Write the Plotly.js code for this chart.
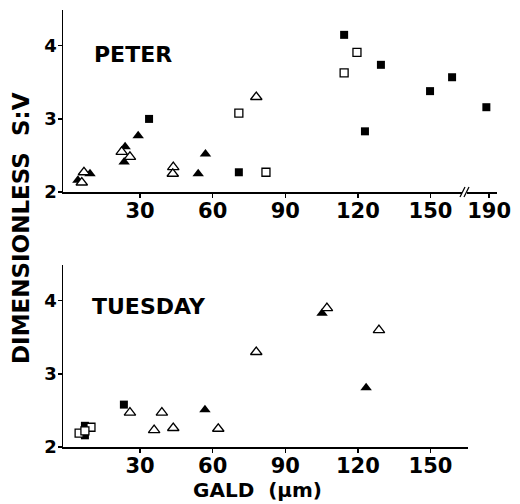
<!DOCTYPE html>
<html>
<head>
<meta charset="utf-8">
<script src="https://cdn.plot.ly/plotly-3.0.1.min.js"></script>
<style>html,body{margin:0;padding:0;background:#fff;}#chart{width:520px;height:504px;}</style>
</head>
<body>
<div id="chart"></div>
<script>
// PETER panel
const peterFilledTriX = [4.3, 9.3, 23.8, 23.4, 29.2, 54, 57];
const peterFilledTriY = [2.16, 2.25, 2.62, 2.41, 2.77, 2.25, 2.52];
const peterOpenTriX = [5.9, 6.8, 22.4, 25.8, 43.7, 43.5, 78];
const peterOpenTriY = [2.13, 2.27, 2.55, 2.48, 2.34, 2.25, 3.30];
const peterFilledSqX = [33.7, 70.8, 114.3, 129.5, 122.9, 149.8, 158.9, 189];
const peterFilledSqY = [3.00, 2.27, 4.15, 3.74, 2.83, 3.38, 3.57, 3.16];
const peterOpenSqX = [70.8, 82, 119.6, 114.3];
const peterOpenSqY = [3.08, 2.27, 3.91, 3.63];
// TUESDAY panel
const tuesFilledSqX = [7.2, 7.2, 23.3];
const tuesFilledSqY = [2.29, 2.16, 2.58];
const tuesOpenSqX = [4.8, 9.7, 7.2];
const tuesOpenSqY = [2.19, 2.27, 2.22];
const tuesOpenTriX = [25.8, 35.8, 39, 43.7, 62.3, 78, 107.2, 128.7];
const tuesOpenTriY = [2.47, 2.23, 2.47, 2.26, 2.25, 3.30, 3.90, 3.60];
const tuesFilledTriX = [56.8, 105.2, 123.4];
const tuesFilledTriY = [2.51, 3.83, 2.81];
// ticks
const topTicks = [30, 60, 90, 120, 150];
const breakTicks = [190];
const bottomTicks = [30, 60, 90, 120, 150];
const yTicks = [2, 3, 4];
const breakAt = 170;

const FONT = 'DejaVu Sans';
const TRI = 10, SQ = 8;
function mk(sym, open, size) {
  return {symbol: sym, size: size, color: open ? '#ffffff' : '#000000', line: {color: '#000', width: open ? 1.3 : 0}};
}
function split(xs, ys, hi) {
  const X = [], Y = [];
  xs.forEach((v, i) => { if ((v > breakAt) === hi) { X.push(v); Y.push(ys[i]); } });
  return [X, Y];
}
const traces = [];
function add(xs, ys, sym, open, size, xa, ya) {
  traces.push({x: xs, y: ys, type: 'scatter', mode: 'markers', marker: mk(sym, open, size), xaxis: xa, yaxis: ya, cliponaxis: false, showlegend: false, hoverinfo: 'x+y'});
}
// top panel
add(peterFilledTriX, peterFilledTriY, 'triangle-up', false, TRI, 'x', 'y');
add(peterOpenTriX, peterOpenTriY, 'triangle-up', true, TRI, 'x', 'y');
let [a, b] = split(peterFilledSqX, peterFilledSqY, false);
add(a, b, 'square', false, SQ, 'x', 'y');
[a, b] = split(peterFilledSqX, peterFilledSqY, true);
add(a, b, 'square', false, SQ, 'x3', 'y3');
add(peterOpenSqX, peterOpenSqY, 'square', true, SQ, 'x', 'y');
// bottom panel
add(tuesFilledSqX, tuesFilledSqY, 'square', false, SQ, 'x2', 'y2');
add(tuesOpenSqX, tuesOpenSqY, 'square', true, SQ, 'x2', 'y2');
add(tuesFilledTriX, tuesFilledTriY, 'triangle-up', false, TRI, 'x2', 'y2');
add(tuesOpenTriX, tuesOpenTriY, 'triangle-up', true, TRI, 'x2', 'y2');

const L = 63, R = 497, T = 10, B = 447, W = 520, H = 504;
const px = v => (v - L) / (R - L);
const py = v => (B - v) / (B - T);
const xtf = {family: FONT, size: 21, color: '#000', weight: 'bold'};
const ytf = {family: FONT, size: 18, color: '#000', weight: 'bold'};
const xbase = {showline: true, linecolor: '#000', linewidth: 1.5, ticks: 'outside', ticklen: 4, tickwidth: 1.3, tickcolor: '#000', showgrid: false, zeroline: false, tickmode: 'array', tickfont: xtf, ticklabelstandoff: -5, fixedrange: true};
const ybase = {showline: true, linecolor: '#000', linewidth: 1.5, ticks: 'outside', ticklen: 4, tickwidth: 1.3, tickcolor: '#000', showgrid: false, zeroline: false, tickmode: 'array', tickvals: yTicks, ticktext: yTicks.map(String), tickfont: ytf, ticklabelstandoff: -3, range: [2, 4.49], fixedrange: true};

const layout = {
  width: W, height: H,
  margin: {l: L, r: W - R, t: T, b: H - B, pad: 0},
  paper_bgcolor: '#fff', plot_bgcolor: '#fff',
  xaxis: Object.assign({}, xbase, {domain: [0, px(462)], range: [-1.86, 163], tickvals: topTicks, ticktext: topTicks.map(String), anchor: 'y'}),
  yaxis: Object.assign({}, ybase, {domain: [py(192), 1], anchor: 'x'}),
  xaxis3: Object.assign({}, xbase, {domain: [px(467), 1], range: [181.9, 192.9], tickvals: breakTicks, ticktext: breakTicks.map(String), anchor: 'y3'}),
  yaxis3: Object.assign({}, ybase, {domain: [py(192), 1], anchor: 'x3', visible: false, overlaying: 'y'}),
  xaxis2: Object.assign({}, xbase, {domain: [0, px(468)], range: [-1.86, 165.5], tickvals: bottomTicks, ticktext: bottomTicks.map(String), anchor: 'y2'}),
  yaxis2: Object.assign({}, ybase, {domain: [0, py(265)], anchor: 'x2'}),
  shapes: [
    {type: 'line', xref: 'paper', yref: 'paper', x0: px(460), y0: py(197), x1: px(465), y1: py(187), line: {color: '#000', width: 1.3}},
    {type: 'line', xref: 'paper', yref: 'paper', x0: px(464), y0: py(197), x1: px(469), y1: py(187), line: {color: '#000', width: 1.3}}
  ],
  annotations: [
    {text: 'PETER', xref: 'paper', yref: 'paper', x: px(133), y: py(54), showarrow: false, xanchor: 'center', yanchor: 'middle', font: {family: FONT, size: 22, color: '#000', weight: 'bold'}},
    {text: 'TUESDAY', xref: 'paper', yref: 'paper', x: px(149), y: py(307), showarrow: false, xanchor: 'center', yanchor: 'middle', font: {family: FONT, size: 22, color: '#000', weight: 'bold'}},
    {text: 'DIMENSIONLESS  S:V', xref: 'paper', yref: 'paper', x: px(21), y: py(228), showarrow: false, textangle: -90, xanchor: 'center', yanchor: 'middle', font: {family: FONT, size: 23, color: '#000', weight: 'bold'}},
    {text: 'GALD  (µm)', xref: 'paper', yref: 'paper', x: px(257), y: py(490), showarrow: false, xanchor: 'center', yanchor: 'middle', font: {family: FONT, size: 20, color: '#000', weight: 'bold'}}
  ]
};
Plotly.newPlot('chart', traces, layout, {displayModeBar: false, staticPlot: true});
</script>
</body>
</html>
